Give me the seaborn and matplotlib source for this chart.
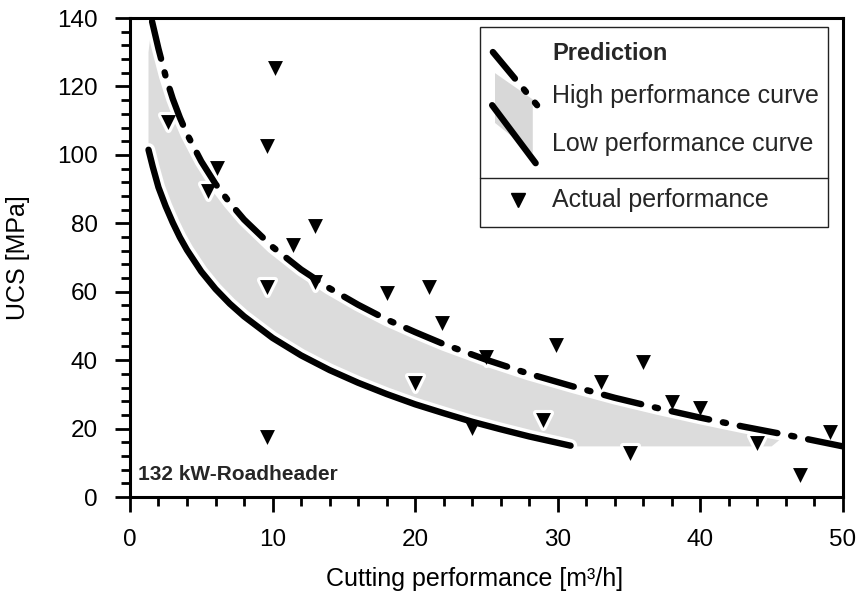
import matplotlib
matplotlib.use("Agg")
import matplotlib.pyplot as plt
import seaborn as sns
import numpy as np
from matplotlib.lines import Line2D
from matplotlib.patches import Polygon, Rectangle
from matplotlib.ticker import MultipleLocator

# ---------------- data ----------------
actual_x = [2.7, 10.2, 9.6, 6.1, 5.5, 11.4, 13.0, 13.0, 9.6, 18.0, 21.0, 21.9, 20.0,
            9.6, 24.0, 25.0, 29.9, 33.0, 36.0, 29.0, 35.1, 38.0, 40.0, 44.0, 47.0, 49.1]
actual_y = [109.5, 125.5, 102.5, 96.3, 89.3, 73.7, 79.2, 62.8, 61.4, 59.6, 61.4, 50.9, 33.3,
            17.5, 20.2, 40.9, 44.4, 33.6, 39.5, 22.5, 12.9, 27.8, 26.0, 15.8, 6.4, 19.0]

high_x = [1.55, 2, 2.5, 3, 3.5, 4, 5, 6, 7, 8, 10, 12, 14, 16, 18, 20, 22, 25, 28, 31,
          34, 37, 40, 43, 46, 50]
high_y = [139.0, 131.0, 123.0, 116.4, 110.9, 106.1, 98.1, 91.5, 86.0, 81.1, 73.1, 66.5,
          61.0, 56.2, 51.9, 48.2, 44.7, 40.1, 36.0, 32.4, 29.0, 26.0, 23.2, 20.6, 18.2, 14.8]

low_x = [1.3, 1.6, 2, 2.5, 3, 3.5, 4, 5, 6, 7, 8, 10, 12, 14, 16, 18, 20, 22, 24, 26, 28, 30.9]
low_y = [101.5, 96.5, 90.5, 85.0, 80.2, 75.9, 72.2, 65.9, 60.8, 56.5, 52.8, 46.5, 41.4,
         37.1, 33.4, 30.1, 27.1, 24.5, 22.0, 19.8, 17.7, 15.0]

band_left_top = 130.0     # top of the grey band at its left edge
band_floor = 14.8         # flat lower edge of the grey band right of the low curve
band_end_x = 45.0         # where the grey band ends on the floor

x_ticks = [0, 10, 20, 30, 40, 50]
y_ticks = [0, 20, 40, 60, 80, 100, 120, 140]

# ---------------- style ----------------
sns.set_theme(style="ticks")
plt.rcParams["font.family"] = ["Liberation Sans", "DejaVu Sans"]

fig = plt.figure(figsize=(8.59, 6.01), dpi=100)
ax = fig.add_axes([0.1513, 0.173, 0.830, 0.797])

LW = 4.6
HALO = LW + 5.0
DASHDOT = (0, (6.0, 2.2, 0.5, 2.2))
DASHDOT_LEG = (0.6, (6.0, 2.2, 0.5, 2.2))

# grey band between the curves
hx = np.array(high_x); hy = np.array(high_y)
keep = hx <= 46
poly_x = [low_x[0], low_x[0]] + list(hx[keep]) + [band_end_x, low_x[-1]] + low_x[::-1]
poly_y = [low_y[0], band_left_top] + list(hy[keep]) + [band_floor, band_floor] + low_y[::-1]
ax.fill(poly_x, poly_y, color="#dcdcdc", lw=0, zorder=1)

# white halos below lines and markers
sns.lineplot(x=high_x, y=high_y, ax=ax, color="white", lw=HALO, zorder=2,
             solid_capstyle="round")
sns.lineplot(x=low_x, y=low_y, ax=ax, color="white", lw=HALO, zorder=2,
             solid_capstyle="round")
sns.scatterplot(x=actual_x, y=actual_y, ax=ax, marker="v", s=115, color="white",
                edgecolor="white", linewidth=4.5, zorder=3)

# black curves and markers
sns.lineplot(x=high_x, y=high_y, ax=ax, color="black", lw=LW, linestyle=DASHDOT,
             dash_capstyle="round", zorder=4)
sns.lineplot(x=low_x, y=low_y, ax=ax, color="black", lw=LW, zorder=4,
             solid_capstyle="round")
sns.scatterplot(x=actual_x, y=actual_y, ax=ax, marker="v", s=115, color="black",
                linewidth=0, zorder=5)

# axes
ax.set_xlim(0, 50)
ax.set_ylim(0, 140)
ax.set_xticks(x_ticks)
ax.set_yticks(y_ticks)
ax.xaxis.set_minor_locator(MultipleLocator(2))
ax.yaxis.set_minor_locator(MultipleLocator(4))
for s in ax.spines.values():
    s.set_linewidth(2.2)
    s.set_color("black")
    s.set_visible(True)
ax.tick_params(which="major", direction="out", length=11, width=2.0, color="black",
               labelsize=17.5, pad=12, labelcolor="black")
ax.tick_params(which="minor", direction="out", length=6.5, width=2.0, color="black")
ax.set_xlabel("Cutting performance [m³/h]", fontsize=18, color="black")
ax.set_ylabel("UCS [MPa]", fontsize=18, color="black")
ax.xaxis.set_label_coords(0.484, -0.146)
ax.yaxis.set_label_coords(-0.14, 0.5)

ax.text(0.56, 5.0, "132 kW-Roadheader", fontsize=15, fontweight="bold",
        ha="left", va="baseline", zorder=6)

# custom legend box
T = ax.transAxes
ax.add_patch(Rectangle((0.491, 0.564), 0.488, 0.417, transform=T, facecolor="white",
                       edgecolor="#222222", lw=1.0, zorder=6))
ax.add_line(Line2D([0.491, 0.979], [0.666, 0.666], transform=T, color="#222222",
                   lw=1.0, zorder=7))
ax.add_patch(Polygon([(0.512, 0.885), (0.565, 0.830), (0.565, 0.718), (0.512, 0.781)],
                     closed=True, transform=T, facecolor="#d8d8d8", lw=0, zorder=7))
ax.add_line(Line2D([0.509, 0.571], [0.929, 0.818], transform=T, color="black", lw=LW,
                   linestyle=DASHDOT_LEG, dash_capstyle="round", zorder=8))
ax.add_line(Line2D([0.508, 0.569], [0.818, 0.697], transform=T, color="black", lw=LW,
                   solid_capstyle="round", zorder=8))
ax.add_line(Line2D([0.544], [0.620], transform=T, marker="v", markersize=10.5,
                   color="black", lw=0, zorder=8))
ax.text(0.592, 0.912, "Prediction", transform=T, fontsize=17, fontweight="bold",
        va="baseline", ha="left", zorder=8)
ax.text(0.592, 0.823, "High performance curve", transform=T, fontsize=18,
        va="baseline", ha="left", zorder=8)
ax.text(0.592, 0.722, "Low performance curve", transform=T, fontsize=18,
        va="baseline", ha="left", zorder=8)
ax.text(0.592, 0.605, "Actual performance", transform=T, fontsize=18,
        va="baseline", ha="left", zorder=8)

fig.savefig("out.png", dpi=100)
